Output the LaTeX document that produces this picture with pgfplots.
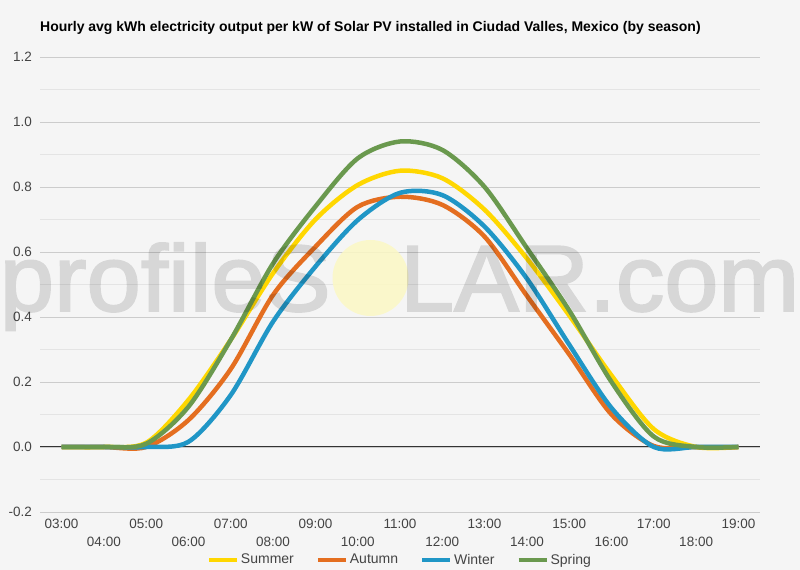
\documentclass[border=0pt]{standalone}
\usepackage{fontspec}
\setmainfont{Liberation Sans}
\newfontfamily\wmfont[FakeBold=2]{Liberation Sans}
\usepackage{graphicx}
\usepackage{pgfplots}
\usepackage{pgfplotstable}
\pgfplotsset{compat=1.18}

\definecolor{bg}{RGB}{245,245,245}
\definecolor{summer}{RGB}{255,215,0}
\definecolor{autumn}{RGB}{228,110,32}
\definecolor{winter}{RGB}{32,150,198}
\definecolor{spring}{RGB}{106,153,78}
\definecolor{majgrid}{RGB}{204,204,204}
\definecolor{mingrid}{RGB}{228,228,228}
\definecolor{ticktext}{RGB}{68,68,68}
\definecolor{sun}{RGB}{252,248,196}

% hourly avg kWh per kW installed, by season
\pgfplotstableread{
hour summer autumn winter spring
3  0     0     0     0
4  0     0     0     0
5  0.013 0     0     0.010
6  0.145 0.083 0.016 0.124
7  0.330 0.240 0.160 0.330
8  0.535 0.468 0.386 0.565
9  0.700 0.616 0.555 0.740
10 0.806 0.739 0.698 0.888
11 0.850 0.770 0.782 0.940
12 0.827 0.745 0.775 0.914
13 0.730 0.647 0.678 0.800
14 0.580 0.465 0.518 0.612
15 0.405 0.285 0.315 0.420
16 0.220 0.100 0.120 0.200
17 0.055 0.003 0     0.032
18 0     0     0     0
19 0     0     0     0
}\seasondata

\begin{document}
\begin{tikzpicture}[x=1bp,y=1bp]
\fill[bg] (0,0) rectangle (800,570);
\node[anchor=west, inner sep=0pt, font=\fontsize{14bp}{16bp}\selectfont\bfseries]
  at (40,542) {Hourly avg kWh electricity output per kW of Solar PV installed in Ciudad Valles, Mexico (by season)};
\begin{axis}[
  at={(40bp,58bp)}, anchor=south west,
  scale only axis, width=720bp, height=455bp,
  xmin=2.49, xmax=19.51, ymin=-0.2, ymax=1.2,
  axis line style={draw=none},
  tick style={draw=none},
  ytick={-0.2,0,0.2,0.4,0.6,0.8,1.0,1.2},
  minor ytick={-0.1,0.1,0.3,0.5,0.7,0.9,1.1},
  ymajorgrids, yminorgrids,
  major grid style={majgrid, line width=0.8bp},
  minor grid style={mingrid, line width=0.8bp},
  /pgf/number format/fixed,
  /pgf/number format/fixed zerofill,
  /pgf/number format/precision=1,
  /pgf/number format/assume math mode=true,
  xtick={3,5,...,19},
  xticklabels={03:00,05:00,07:00,09:00,11:00,13:00,15:00,17:00,19:00},
  extra x ticks={4,6,...,18},
  extra x tick labels={04:00,06:00,08:00,10:00,12:00,14:00,16:00,18:00},
  extra x tick style={xticklabel style={yshift=-18bp}},
  every tick label/.append style={font=\fontsize{13.5bp}{16bp}\selectfont, text=ticktext, inner sep=0pt},
  xticklabel style={anchor=north, yshift=-7bp},
  yticklabel style={anchor=east, xshift=-8bp},
  legend columns=4,
  legend style={draw=none, fill=none, at={(0.5,-0.105)}, anchor=center,
    font=\fontsize{14bp}{16bp}\selectfont, text=ticktext,
    /tikz/every even column/.append style={column sep=20bp}},
  legend image code/.code={\draw[#1, line width=4bp] (0bp,0bp) -- (28bp,0bp);},
]
\draw[black!80, line width=1bp] (axis cs:2.49,0) -- (axis cs:19.51,0);
\addplot[summer, line width=4.5bp, smooth] table[x=hour, y=summer] {\seasondata};
\addplot[autumn, line width=4.5bp, smooth] table[x=hour, y=autumn] {\seasondata};
\addplot[winter, line width=4.5bp, smooth] table[x=hour, y=winter] {\seasondata};
\addplot[spring, line width=4.5bp, smooth] table[x=hour, y=spring] {\seasondata};
\legend{Summer, Autumn, Winter, Spring}
\end{axis}
% watermark
\fill[sun, fill opacity=0.85] (370.5,292) circle (38);
\begin{scope}[transparency group, opacity=0.12]
\node[anchor=base east, inner sep=0pt, text=black] at (331,259)
  {\resizebox{331bp}{\height}{\fontsize{94bp}{94bp}\wmfont profileS}};
\node[anchor=base west, inner sep=0pt, text=black] at (400,259)
  {\resizebox{399bp}{\height}{\fontsize{94bp}{94bp}\wmfont LAR.com}};
\end{scope}
\pgfresetboundingbox
\useasboundingbox (0,0) rectangle (800,570);
\end{tikzpicture}
\end{document}
